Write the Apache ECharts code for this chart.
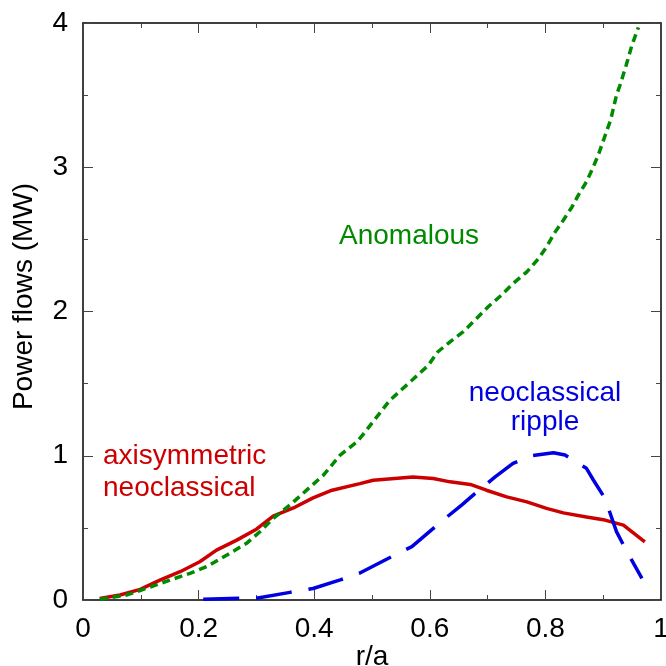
<!DOCTYPE html>
<html>
<head>
<meta charset="utf-8">
<script src="https://cdn.jsdelivr.net/npm/echarts@6/dist/echarts.min.js"></script>
<style>
  html, body { margin: 0; padding: 0; background: #fff; }
  #chart { width: 666px; height: 666px; }
</style>
</head>
<body>
<div id="chart"></div>
<script>
// Power flow profiles versus normalised radius r/a
const axisymR = [0.029, 0.064, 0.099, 0.133, 0.168, 0.202, 0.231, 0.266, 0.300, 0.329, 0.364, 0.398, 0.431, 0.479, 0.502, 0.571, 0.606, 0.635, 0.670, 0.698, 0.733, 0.768, 0.802, 0.831, 0.871, 0.903, 0.935, 0.972];
const axisymP = [0.010, 0.035, 0.074, 0.138, 0.196, 0.265, 0.346, 0.415, 0.491, 0.581, 0.638, 0.708, 0.761, 0.807, 0.830, 0.853, 0.842, 0.819, 0.801, 0.761, 0.715, 0.680, 0.635, 0.604, 0.576, 0.554, 0.519, 0.403];

const anomR = [0.029, 0.076, 0.110, 0.151, 0.185, 0.214, 0.249, 0.283, 0.306, 0.329, 0.358, 0.387, 0.416, 0.445, 0.474, 0.485, 0.531, 0.571, 0.597, 0.614, 0.635, 0.658, 0.678, 0.701, 0.724, 0.744, 0.768, 0.788, 0.802, 0.817, 0.831, 0.846, 0.857, 0.871, 0.883, 0.892, 0.913, 0.923, 0.930, 0.940, 0.950, 0.961];
const anomP = [0.005, 0.035, 0.081, 0.139, 0.185, 0.231, 0.312, 0.393, 0.473, 0.566, 0.658, 0.762, 0.866, 1.005, 1.097, 1.150, 1.385, 1.530, 1.625, 1.721, 1.790, 1.860, 1.940, 2.033, 2.114, 2.194, 2.275, 2.367, 2.448, 2.552, 2.633, 2.725, 2.807, 2.899, 3.003, 3.091, 3.330, 3.500, 3.580, 3.710, 3.850, 3.970];

const rippleR = [0.208, 0.272, 0.300, 0.358, 0.398, 0.445, 0.479, 0.534, 0.569, 0.623, 0.655, 0.675, 0.713, 0.744, 0.773, 0.814, 0.834, 0.871, 0.883, 0.903, 0.923, 0.941, 0.967];
const rippleP = [0.005, 0.012, 0.012, 0.053, 0.080, 0.139, 0.187, 0.301, 0.370, 0.554, 0.658, 0.727, 0.854, 0.947, 0.998, 1.021, 1.005, 0.913, 0.832, 0.705, 0.474, 0.335, 0.150];

const xTicks = [0, 0.2, 0.4, 0.6, 0.8, 1];
const yTicks = [0, 1, 2, 3, 4];

const RED = '#cc0000';
const GREEN = '#008a00';
const BLUE = '#0000e0';
const FONT = '"Liberation Sans", Arial, Helvetica, sans-serif';

const zip = (xs, ys) => xs.map((x, i) => [x, ys[i]]);

const tickStyle = { show: true, inside: true, length: 10, lineStyle: { color: '#444', width: 1 } };
const minorStyle = { show: true, splitNumber: 2, length: 5, lineStyle: { color: '#444', width: 1 } };
const lineStyle = { show: true, onZero: false, lineStyle: { color: '#000', width: 1.5 } };

function xAxisDef(pos, labels) {
  return {
    type: 'value', position: pos, min: xTicks[0], max: xTicks[xTicks.length - 1],
    interval: xTicks[1] - xTicks[0],
    axisLine: lineStyle, axisTick: tickStyle, minorTick: minorStyle,
    splitLine: { show: false },
    axisLabel: {
      show: labels, margin: 15, fontSize: 28, fontFamily: FONT, color: '#000',
      formatter: v => String(+v.toFixed(1))
    }
  };
}
function yAxisDef(pos, labels) {
  return {
    type: 'value', position: pos, min: yTicks[0], max: yTicks[yTicks.length - 1],
    interval: yTicks[1] - yTicks[0],
    axisLine: lineStyle, axisTick: tickStyle, minorTick: minorStyle,
    splitLine: { show: false },
    axisLabel: { show: labels, margin: 15, fontSize: 28, fontFamily: FONT, color: '#000' }
  };
}

const xBottom = xAxisDef('bottom', true);
xBottom.name = 'r/a';
xBottom.nameLocation = 'middle';
xBottom.nameGap = 43;
xBottom.nameMoveOverlap = false;
xBottom.nameTextStyle = { fontSize: 28, fontFamily: FONT, color: '#000' };

const yLeft = yAxisDef('left', true);
yLeft.name = 'Power flows (MW)';
yLeft.nameLocation = 'middle';
yLeft.nameGap = 45;
yLeft.nameMoveOverlap = false;
yLeft.nameTextStyle = { fontSize: 28, fontFamily: FONT, color: '#000', padding: [0, 0, 0, 30] };

const chart = echarts.init(document.getElementById('chart'), null, { renderer: 'canvas' });

function annot(text, x, y, color, align) {
  return {
    type: 'text', x: x, y: y, silent: true,
    style: { text: text, fill: color, font: '28px ' + FONT, align: align || 'left', verticalAlign: 'middle' }
  };
}

chart.setOption({
  animation: false,
  backgroundColor: '#fff',
  grid: { left: 83, right: 5, top: 23, bottom: 66, containLabel: false, outerBoundsMode: 'none' },
  xAxis: [xBottom, xAxisDef('top', false)],
  yAxis: [yLeft, yAxisDef('right', false)],
  series: [
    {
      name: 'axisymmetric neoclassical', type: 'line', data: zip(axisymR, axisymP),
      showSymbol: false, symbol: 'none', smooth: false,
      lineStyle: { color: RED, width: 3.5 }
    },
    {
      name: 'Anomalous', type: 'line', data: zip(anomR, anomP),
      showSymbol: false, symbol: 'none', smooth: false,
      lineStyle: { color: GREEN, width: 3.5, type: [8, 5] }
    },
    {
      name: 'neoclassical ripple', type: 'line', data: zip(rippleR, rippleP),
      showSymbol: false, symbol: 'none', smooth: false,
      lineStyle: { color: BLUE, width: 3.5, type: [36, 17] }
    }
  ],
  graphic: [
    annot('Anomalous', 339, 236, GREEN),
    annot('axisymmetric', 103, 456, RED),
    annot('neoclassical', 103, 488, RED),
    annot('neoclassical', 545, 393, BLUE, 'center'),
    annot('ripple', 545, 422, BLUE, 'center')
  ]
});
</script>
</body>
</html>
